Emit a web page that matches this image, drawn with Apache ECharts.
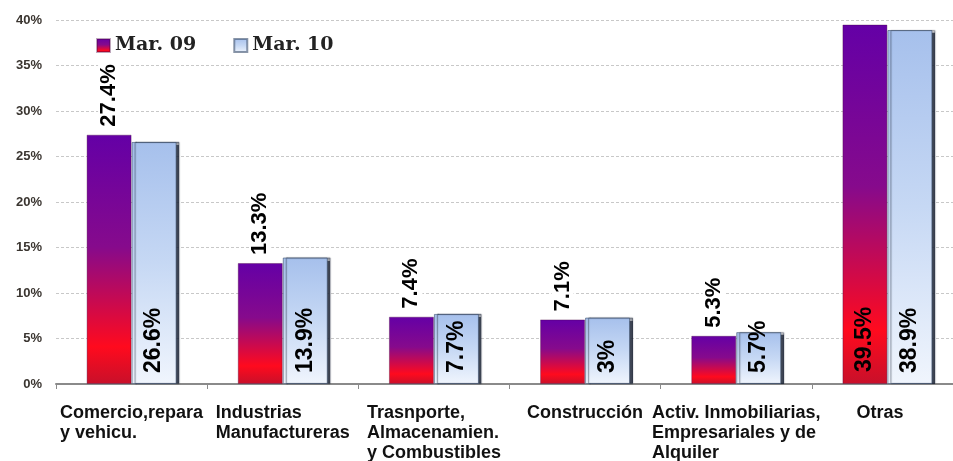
<!DOCTYPE html>
<html>
<head>
<meta charset="utf-8">
<script src="https://cdn.jsdelivr.net/npm/echarts@6/dist/echarts.min.js"></script>
<style>
  html, body { margin: 0; padding: 0; background: #fff; }
  #chart { width: 953px; height: 461px; }
</style>
</head>
<body>
<div id="chart"></div>
<script>
const categories = [
    "Comercio,repara\ny vehicu.",
    "Industrias\nManufactureras",
    "Trasnporte,\nAlmacenamien.\ny Combustibles",
    "Construcción",
    "Activ. Inmobiliarias,\nEmpresariales y de\nAlquiler",
    "Otras"
];
const mar09 = [27.4, 13.3, 7.4, 7.1, 5.3, 39.5];
const mar10 = [26.6, 13.9, 7.7, 7.3, 5.7, 38.9];
const labels09 = ["27.4%", "13.3%", "7.4%", "7.1%", "5.3%", "39.5%"];
const labels10 = ["26.6%", "13.9%", "7.7%", "3%", "5.7%", "38.9%"];
// la etiqueta de Otras (Mar. 09) va dentro de la barra
const inside09 = [false, false, false, false, false, true];

const chart = echarts.init(document.getElementById("chart"));

const grad09 = new echarts.graphic.LinearGradient(0, 0, 0, 1, [
    { offset: 0, color: "#6400a6" },
    { offset: 0.45, color: "#860a8c" },
    { offset: 0.85, color: "#ff0a1e" },
    { offset: 1, color: "#c8102a" }
]);
const grad10 = new echarts.graphic.LinearGradient(0, 0, 0, 1, [
    { offset: 0, color: "#a6c0ec" },
    { offset: 0.5, color: "#c6d8f4" },
    { offset: 1, color: "#f0f5fd" }
]);

const labelFont = {
    fontFamily: "Liberation Sans",
    fontWeight: "bold",
    color: "#000"
};

const axisFont = { fontFamily: "Liberation Sans", fontWeight: "bold", fontSize: 18, lineHeight: 20, color: "#111" };

const option = {
    animation: false,
    backgroundColor: "#fff",
    grid: { left: 56, width: 907, top: 20, bottom: 77, outerBoundsMode: "none", containLabel: false },
    legend: {
        left: 91,
        top: 31,
        icon: "rect",
        itemWidth: 13,
        itemHeight: 13,
        itemGap: 37,
        textStyle: {
            fontFamily: "DejaVu Serif",
            fontWeight: "bold",
            fontSize: 19,
            color: "#222"
        },
        data: ["Mar. 09", "Mar. 10"]
    },
    xAxis: {
        type: "category",
        data: categories,
        axisLine: { lineStyle: { color: "#8a8a8a", width: 2 } },
        axisTick: { show: true, length: 5, lineStyle: { color: "#8a8a8a" } },
        axisLabel: Object.assign({
            interval: 0,
            margin: 19,
            formatter: function (value, idx) {
                const style = idx === 5 ? "o" : "l";
                return value.split("\n").map(function (s) {
                    return "{" + style + "|" + s + "}";
                }).join("\n");
            },
            rich: {
                l: Object.assign({ align: "left" }, axisFont),
                o: Object.assign({ align: "left", width: 62 }, axisFont)
            }
        }, axisFont)
    },
    yAxis: {
        type: "value",
        min: 0,
        max: 40,
        interval: 5,
        axisLine: { show: false },
        axisTick: { show: false },
        axisLabel: {
            formatter: "{value}%",
            margin: 14,
            fontFamily: "Liberation Sans",
            fontWeight: "bold",
            fontSize: 13,
            color: "#3a3530"
        },
        splitLine: { lineStyle: { color: "#c8c8c8", type: [3, 2] } }
    },
    series: [
        {
            name: "Mar. 09",
            type: "bar",
            barWidth: 45,
            barGap: "0%",
            itemStyle: {
                color: grad09,
                borderColor: "rgba(70,0,60,0.35)",
                borderWidth: 1
            },
            data: mar09.map(function (v, i) {
                const label = inside09[i]
                    ? { position: "insideBottom", distance: 12, backgroundColor: "transparent", padding: 0, fontSize: 23 }
                    : {};
                return { value: v, label: label };
            }),
            label: Object.assign({
                show: true,
                position: "top",
                distance: 6,
                rotate: 90,
                align: "left",
                verticalAlign: "middle",
                backgroundColor: "#fff",
                padding: [0, 2],
                fontSize: 22,
                formatter: function (p) { return labels09[p.dataIndex]; }
            }, labelFont)
        },
        {
            name: "Mar. 10",
            type: "bar",
            barWidth: 45,
            itemStyle: {
                color: grad10,
                borderColor: "rgba(60,80,110,0.6)",
                borderWidth: 1,
                shadowColor: "rgba(30,38,55,0.85)",
                shadowOffsetX: 3,
                shadowBlur: 1
            },
            data: mar10,
            label: Object.assign({
                show: true,
                position: "insideBottom",
                distance: 11,
                rotate: 90,
                align: "left",
                verticalAlign: "middle",
                fontSize: 23,
                formatter: function (p) { return labels10[p.dataIndex]; }
            }, labelFont)
        }
    ]
};

chart.setOption(option);
</script>
</body>
</html>
